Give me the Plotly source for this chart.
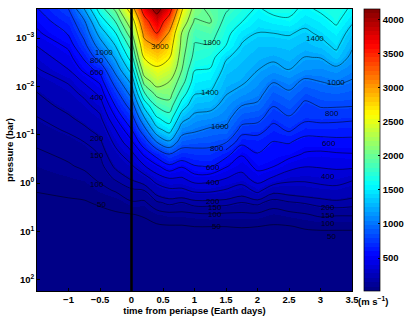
import numpy as np
import plotly.graph_objects as go

times = [-1.5, -1, -0.75, -0.5, -0.25, 0, 0.2, 0.4, 0.6, 0.8, 1, 1.25, 1.5, 1.75, 2, 2.25, 2.5, 2.75, 3, 3.25, 3.5]
log_pressure = [-3.6, -3.35, -3.1, -2.85, -2.6, -2.35, -2.1, -1.85, -1.6, -1.35, -1.1, -0.85, -0.6, -0.35, -0.1, 0.15, 0.4, 0.65, 0.9, 1.2, 2.23]

w00 = [590, 530, 480, 405, 345, 290, 240, 195, 170, 148, 125, 108, 92, 80, 67, 52, 40, 32, 25, 18, 15]
w01 = [800, 690, 610, 525, 460, 400, 310, 265, 225, 190, 158, 130, 110, 95, 78, 58, 45, 35, 27, 19, 15]
w02 = [1200, 980, 860, 750, 620, 530, 415, 320, 270, 225, 185, 150, 125, 108, 85, 62, 47, 36, 28, 20, 15]
w03 = [1700, 1480, 1280, 1100, 900, 650, 520, 425, 340, 280, 225, 185, 153, 130, 110, 85, 55, 40, 30, 21, 15]
w04 = [2050, 1820, 1600, 1415, 1240, 1080, 890, 730, 610, 500, 400, 330, 265, 215, 160, 105, 65, 45, 33, 22, 15]
w05 = [2800, 2400, 2150, 1900, 1700, 1480, 1250, 1060, 880, 720, 590, 480, 370, 285, 210, 140, 95, 48, 32, 23, 15]
w06 = [3700, 3350, 3100, 2870, 2620, 2350, 2070, 1770, 1450, 1180, 920, 680, 520, 390, 255, 150, 90, 55, 35, 23, 15]
w07 = [4150, 3780, 3500, 3030, 2780, 2540, 2310, 2060, 1820, 1580, 1330, 1000, 650, 480, 350, 240, 140, 75, 42, 25, 15]
w08 = [3700, 3300, 2950, 2780, 2620, 2420, 2200, 2090, 1910, 1710, 1480, 1170, 800, 570, 400, 280, 165, 85, 45, 25, 15]
w09 = [2630, 2380, 2180, 2120, 2060, 2005, 1890, 1700, 1500, 1280, 1080, 900, 700, 510, 390, 280, 150, 85, 45, 25, 15]
w10 = [2080, 1980, 1840, 1790, 1740, 1610, 1510, 1410, 1280, 1150, 1030, 870, 730, 590, 450, 320, 175, 90, 50, 25, 15]
w11 = [1950, 2020, 1900, 1790, 1680, 1590, 1480, 1380, 1260, 1120, 970, 860, 730, 610, 440, 320, 175, 95, 50, 25, 15]
w12 = [1830, 1730, 1660, 1600, 1420, 1340, 1270, 1210, 1130, 1060, 960, 810, 640, 510, 400, 290, 170, 90, 50, 25, 15]
w13 = [1700, 1610, 1470, 1385, 1330, 1280, 1230, 1130, 1000, 870, 750, 630, 510, 440, 360, 245, 150, 90, 52, 25, 15]
w14 = [1570, 1480, 1395, 1320, 1260, 1205, 1130, 1060, 970, 840, 740, 650, 595, 530, 450, 330, 165, 90, 50, 25, 15]
w15 = [1670, 1530, 1400, 1320, 1230, 1150, 1010, 900, 805, 730, 665, 595, 555, 505, 385, 225, 125, 75, 45, 25, 15]
w16 = [1660, 1570, 1415, 1340, 1270, 1205, 1075, 970, 880, 785, 715, 610, 535, 440, 330, 235, 145, 85, 47, 25, 15]
w17 = [1550, 1450, 1365, 1280, 1195, 1120, 960, 850, 765, 725, 650, 555, 490, 405, 320, 250, 155, 95, 55, 26, 15]
w18 = [1640, 1520, 1430, 1345, 1205, 1110, 1000, 900, 810, 735, 650, 560, 480, 410, 335, 265, 170, 110, 58, 26, 15]
w19 = [1700, 1640, 1520, 1440, 1340, 1150, 1030, 920, 810, 730, 650, 570, 490, 420, 345, 270, 185, 105, 58, 26, 15]
w20 = [1560, 1430, 1320, 1230, 1150, 1065, 985, 890, 805, 720, 645, 570, 495, 420, 315, 245, 175, 105, 58, 26, 15]

levels = [50, 100, 150, 200, 300, 400, 500, 600, 800, 1000, 1200, 1400, 1600, 1800, 2000, 2200, 2600, 3000, 3500, 4000]
right_side_level = 700
colorbar_ticks = [500, 1000, 1500, 2000, 2500, 3000, 3500, 4000]
x_ticks = [-1, -0.5, 0, 0.5, 1, 1.5, 2, 2.5, 3, 3.5]
x_tick_text = ["−1", "−0.5", "0", "0.5", "1", "1.5", "2", "2.5", "3", "3.5"]
y_ticks = [1e-3, 1e-2, 1e-1, 1, 10, 100]
y_tick_text = ["10<sup>−3</sup>", "10<sup>−2</sup>", "10<sup>−1</sup>", "10<sup>0</sup>", "10<sup>1</sup>", "10<sup>2</sup>"]

label_text = ["1000", "800", "600", "400", "200", "150", "100", "50",
              "3000", "1800", "1400", "1000", "800", "600", "400", "200", "150", "100", "50",
              "1400", "1000", "800", "600", "400", "200", "150", "100", "50"]
label_t = [-0.43, -0.54, -0.54, -0.54, -0.54, -0.54, -0.54, -0.48,
           0.46, 1.27, 1.24, 1.40, 1.35, 1.29, 1.29, 1.29, 1.32, 1.32, 1.35,
           2.91, 3.24, 3.19, 3.13, 3.12, 3.12, 3.12, 3.12, 3.18]
label_logp = [-2.71, -2.53, -2.28, -1.78, -0.93, -0.58, 0.02, 0.45,
              -2.83, -2.90, -1.88, -1.17, -0.72, -0.33, -0.02, 0.37, 0.51, 0.64, 0.90,
              -3.0, -2.09, -1.43, -0.81, -0.13, 0.51, 0.66, 0.84, 1.11]

wind = np.array([w00, w01, w02, w03, w04, w05, w06, w07, w08, w09, w10, w11, w12, w13, w14, w15, w16, w17, w18, w19, w20]).T
pressure = [10.0 ** v for v in log_pressure]


def jet_steps(n=64):
    stops = []
    for i in range(n):
        v = (i + 0.5) / n
        r = np.clip(min(4 * v - 1.5, -4 * v + 4.5), 0, 1)
        g = np.clip(min(4 * v - 0.5, -4 * v + 3.5), 0, 1)
        b = np.clip(min(4 * v + 0.5, -4 * v + 2.5), 0, 1)
        c = f"rgb({int(r*255)},{int(g*255)},{int(b*255)})"
        stops += [[i / n, c], [(i + 1) / n, c]]
    return stops


FONT = "Liberation Sans"
LINE = dict(color="rgba(0,0,0,0.7)", width=0.7, smoothing=1)
fig = go.Figure()
fig.add_trace(go.Contour(
    x=times, y=pressure, z=wind, zmin=15, zmax=4160, colorscale=jet_steps(),
    contours=dict(coloring="heatmap", start=5000, end=5001, size=1, showlines=False),
    line=dict(width=0), hoverinfo="skip",
    colorbar=dict(x=(364 - 37) / 315, xanchor="left", y=0.5, yanchor="middle", len=1, lenmode="fraction",
                  thickness=16, thicknessmode="pixels", ypad=0, xpad=0, outlinecolor="black", outlinewidth=0.7,
                  tickvals=colorbar_ticks, ticks="inside", ticklen=2, tickcolor="black",
                  tickfont=dict(family=FONT, size=9.5, color="black", weight="bold")),
))
for lev in levels:
    fig.add_trace(go.Contour(
        x=times, y=pressure, z=wind, showscale=False, hoverinfo="skip",
        contours=dict(coloring="none", start=lev, end=lev, size=1), line=LINE,
    ))
fig.add_trace(go.Contour(
    x=times[12:], y=pressure, z=wind[:, 12:], showscale=False, hoverinfo="skip",
    contours=dict(coloring="none", start=right_side_level, end=right_side_level, size=1), line=LINE,
))
fig.add_shape(type="line", x0=0, x1=0, yref="paper", y0=0, y1=1, line=dict(color="black", width=2.5))
for s, t, lp in zip(label_text, label_t, label_logp):
    fig.add_annotation(x=t, y=lp, text=s, showarrow=False, font=dict(family=FONT, size=8, color="rgba(0,0,0,0.85)"))
TITLE = dict(family=FONT, size=9.5, color="black", weight="bold")
fig.add_annotation(xref="paper", yref="paper", x=(373 - 37) / 315, y=(291 - 301) / 282, xanchor="center", yanchor="middle",
                   text="(m s<sup>−1</sup>)", showarrow=False, font=TITLE)

axis = dict(showgrid=False, zeroline=False, showline=True, mirror=True, linecolor="black", linewidth=0.7,
            ticks="inside", tickcolor="black", ticklen=3, automargin=False,
            tickfont=dict(family=FONT, size=9.5, color="black", weight="bold"))
fig.update_xaxes(range=[-1.5, 3.5], tickvals=x_ticks, ticktext=x_tick_text,
                 title=dict(text="time from periapse (Earth days)", standoff=0, font=TITLE), **axis)
fig.update_yaxes(type="log", range=[2.23, -3.6], tickvals=y_ticks, ticktext=y_tick_text,
                 title=dict(text="pressure (bar)", standoff=0, font=TITLE), **axis)
fig.update_layout(width=407, height=318, margin=dict(l=37, r=55, t=9, b=27, autoexpand=False), paper_bgcolor="white",
                  plot_bgcolor="white", showlegend=False)
fig.write_html("out.html", config=dict(displayModeBar=False),
               post_script="document.body.style.margin='0';document.documentElement.style.overflow='hidden';")
